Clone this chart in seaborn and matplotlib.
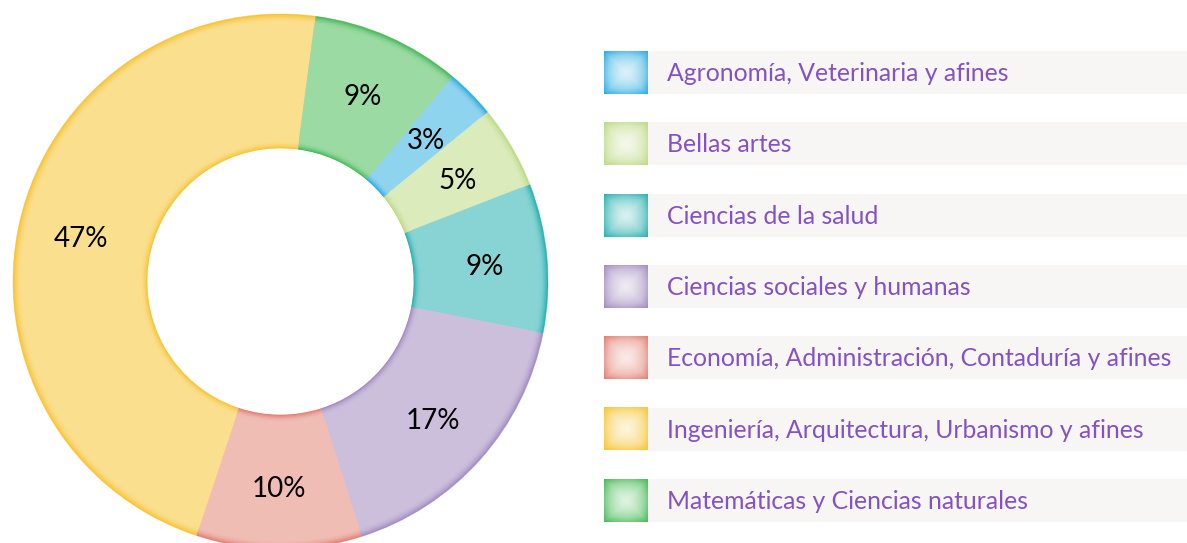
import numpy as np
import matplotlib
matplotlib.use("Agg")
import matplotlib.pyplot as plt
import matplotlib.colors as mcolors
import matplotlib.transforms as mtransforms
import seaborn as sns

# ---- data ----
categories = [
    "Agronomía, Veterinaria y afines",
    "Bellas artes",
    "Ciencias de la salud",
    "Ciencias sociales y humanas",
    "Economía, Administración, Contaduría y afines",
    "Ingeniería, Arquitectura, Urbanismo y afines",
    "Matemáticas y Ciencias naturales",
]
shares = [3, 5, 9, 17, 10, 47, 9]
base_colors = ["#8fd4ef", "#dcebbb", "#88d3d3", "#cbbfdb", "#f0bdb5", "#fadf8f", "#9bdaa2"]
edge_colors = ["#2eaae2", "#bcdb86", "#28b1b1", "#a28bc4", "#e27f73", "#f7c435", "#47b95b"]

sns.set_theme(style="white")
plt.rcParams["font.family"] = ["Lato", "DejaVu Sans"]

W, H = 1187, 543
fig = plt.figure(figsize=(W / 100, H / 100), dpi=100)
fig.patch.set_facecolor("white")

# ---- donut ----
cx, cy, R = 280.5, 281.5, 267.5
ax = fig.add_axes([(cx - R) / W, (H - cy - R) / H, 2 * R / W, 2 * R / H])
START = 50.04
common = dict(startangle=START, counterclock=False, normalize=True)

wedges, _, autotexts = ax.pie(
    shares, colors=base_colors, radius=1.0,
    wedgeprops=dict(width=0.5, linewidth=0.6),
    autopct=lambda p: f"{p:.0f}%", pctdistance=0.765,
    textprops=dict(color="black", fontsize=20, family=["Lato", "DejaVu Sans"]),
    **common)
for w in wedges:
    w.set_edgecolor(w.get_facecolor())

# outer shading band
n = 10
outer_w = 0.032
for k in range(n):
    t = k / n
    r = 1.0 - t * outer_w
    mix = (1 - t) ** 2
    cols = [sns.blend_palette([b, e], 101)[int(round(mix * 100))] for b, e in zip(base_colors, edge_colors)]
    ax.pie(shares, colors=cols, radius=r,
           wedgeprops=dict(width=outer_w / n + 0.002, linewidth=0), **common)
# inner shading band
inner_w = 0.028
for k in range(n):
    t = k / n
    r = 0.5 + (k + 1) * inner_w / n
    mix = (1 - t) ** 2
    cols = [sns.blend_palette([b, e], 101)[int(round(mix * 100))] for b, e in zip(base_colors, edge_colors)]
    ax.pie(shares, colors=cols, radius=r,
           wedgeprops=dict(width=inner_w / n + 0.002, linewidth=0), **common)

shift = mtransforms.ScaledTranslation(0, -3 / 100, fig.dpi_scale_trans)
for t in autotexts:
    t.set_zorder(10)
    t.set_transform(t.get_transform() + shift)
ax.set_xlim(-1, 1)
ax.set_ylim(-1, 1)
ax.set_aspect("equal")
ax.axis("off")

# ---- legend ----
lax = fig.add_axes([0, 0, 1, 1])
lax.set_xlim(0, W)
lax.set_ylim(H, 0)
lax.axis("off")
lax.patch.set_alpha(0)

row_top0, row_step, row_h = 51, 71.3, 43
sq_x0, sq_x1 = 604, 648
yy, xx = np.mgrid[-1:1:64j, -1:1:64j]
d = np.clip(0.55 * np.sqrt(xx ** 2 + yy ** 2) / np.sqrt(2) + 0.45 * np.maximum(abs(xx), abs(yy)), 0, 1)
d = d ** 1.6

for i, (cat, b, e) in enumerate(zip(categories, base_colors, edge_colors)):
    top = row_top0 + i * row_step
    lax.barh(top + row_h / 2, W - sq_x1, left=sq_x1, height=row_h, color="#f7f6f4", linewidth=0)
    light = mcolors.to_rgb(sns.blend_palette([b, "white"], 10)[6])
    bb = np.array(mcolors.to_rgb(b))
    ee = np.array(mcolors.to_rgb(e))
    ll = np.array(light)
    img = np.empty(d.shape + (3,))
    for c in range(3):
        img[..., c] = np.interp(d, [0, 0.55, 1.0], [ll[c], bb[c], ee[c]])
    lax.imshow(img, extent=(sq_x0, sq_x1, top + row_h, top), interpolation="bilinear", zorder=3)
    lax.text(667, top + row_h / 2 + 1, cat, color="#8452c4", fontsize=17.8,
             va="center", ha="left", family=["Lato", "DejaVu Sans"], zorder=4)

lax.set_xlim(0, W)
lax.set_ylim(H, 0)
lax.set_aspect("auto")

fig.savefig("out.png", dpi=100)
